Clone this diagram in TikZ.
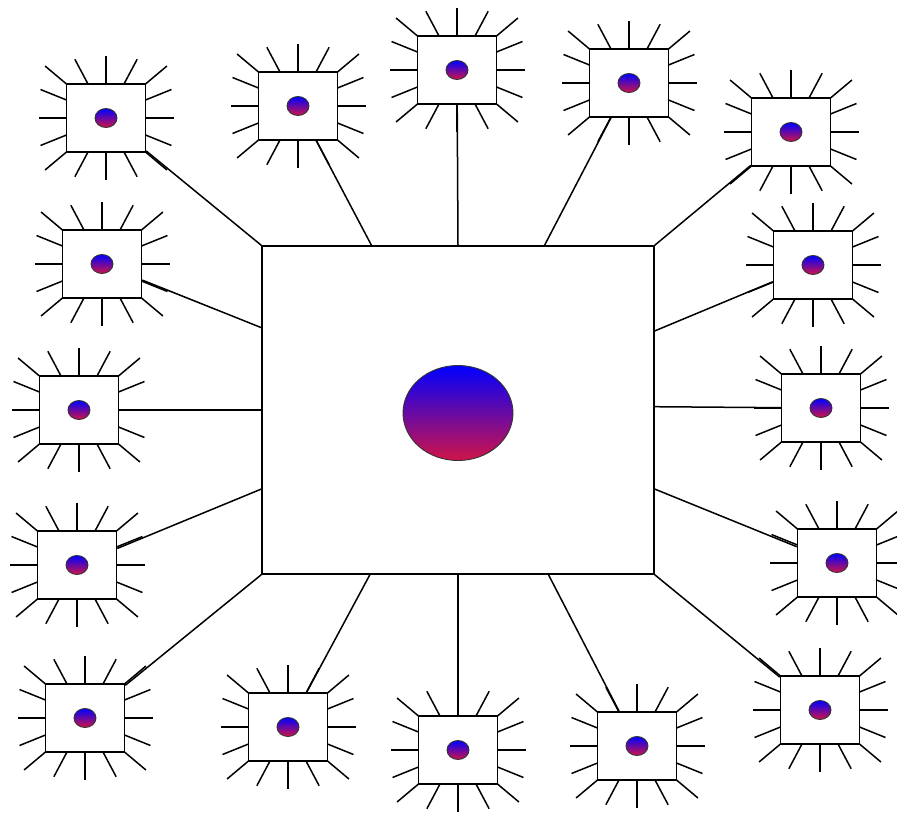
\documentclass[tikz,border=0pt]{standalone}
\usetikzlibrary{calc,shapes.geometric}
\definecolor{crimson}{RGB}{208,20,72}
\tikzset{
  hubbox/.style={draw,fill=white,rectangle,minimum width=392pt,minimum height=328pt,inner sep=0pt},
  cellbox/.style={draw,fill=white,rectangle,minimum width=79pt,minimum height=68pt,inner sep=0pt},
  core/.style={draw=black!80,ellipse,inner sep=0pt,line width=0.9pt,top color=blue,bottom color=crimson},
  link/.style={line width=1.5pt},
  spike/.style={line width=1.5pt}
}
% rays round one cell: start offset from the centre / direction
\newcommand{\rays}[1]{
  \foreach \dx/\dy/\a in {-18/34/118, 0/34/90, 18/34/62,
      -39.5/34/140, 39.5/34/40, -39.5/-34/220, 39.5/-34/320,
      -39.5/18/158, -39.5/0/180, -39.5/-17/202,
      39.5/18/22, 39.5/0/0, 39.5/-17/338,
      -18/-34/242, 0/-34/270, 18/-34/298}
    \draw[spike] ([shift={(\dx,\dy)}]#1.center) -- ++(\a:28pt);
}

\begin{document}
\begin{tikzpicture}[x=1pt,y=1pt,line width=1.5pt]
  \useasboundingbox (0,0) rectangle (897,-814);
  \node[hubbox] (hub) at (458,-410) {};
  \node[core,minimum width=110pt,minimum height=95pt] (heart) at (458,-413) {};

  \foreach \n/\x/\y in {1/106/118, 2/298/106, 3/457/70, 4/629/83, 5/791/132,
      6/813/265, 7/821/408, 8/837/563, 9/820/710,
      10/637/746, 11/458/750, 12/288/727, 13/85/718,
      14/77/565, 15/79/410, 16/102/264} {
    \node[cellbox] (b\n) at (\x,-\y) {};
    \node[core,minimum width=22pt,minimum height=19pt] (d\n) at (b\n) {};
    \rays{b\n}
  }

  % top
  \draw[link] (hub.north west) -- (b1);
  \draw[link] ($(hub.north west)!.28!(hub.north east)$) -- (b2);
  \draw[link] (hub.north) -- (b3);
  \draw[link] ($(hub.north west)!.72!(hub.north east)$) -- (b4);
  \draw[link] (hub.north east) -- (b5);
  % right
  \draw[link] ($(hub.north east)!.26!(hub.south east)$) -- (b6);
  \draw[link] ($(hub.north east)!.49!(hub.south east)$) -- (b7);
  \draw[link] ($(hub.north east)!.74!(hub.south east)$) -- (b8);
  \draw[link] (hub.south east) -- (b9);
  % bottom
  \draw[link] ($(hub.south west)!.73!(hub.south east)$) -- (b10);
  \draw[link] (hub.south) -- (b11);
  \draw[link] ($(hub.south west)!.276!(hub.south east)$) -- (b12);
  \draw[link] (hub.south west) -- (b13);
  % left
  \draw[link] ($(hub.north west)!.74!(hub.south west)$) -- (b14);
  \draw[link] (hub.west) -- (b15);
  \draw[link] ($(hub.north west)!.25!(hub.south west)$) -- (b16);
\end{tikzpicture}
\end{document}
